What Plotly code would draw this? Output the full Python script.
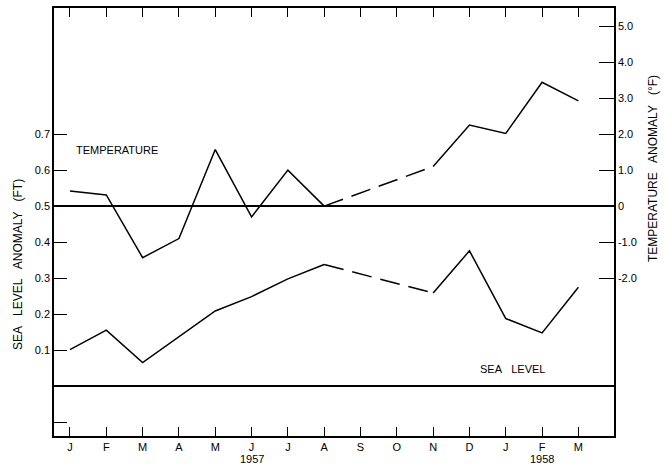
import plotly.graph_objects as go

# ---- data ----
months = ["J", "F", "M", "A", "M", "J", "J", "A", "S", "O", "N", "D", "J", "F", "M"]
month_index = list(range(len(months)))

# temperature anomaly (deg F, right axis units)
temp_anom = [0.42, 0.31, -1.43, -0.90, 1.57, -0.30, 1.00, 0.0, None, None,
             1.10, 2.25, 2.02, 3.44, 2.92]
# sea level anomaly (ft, left axis)
sea_level = [0.102, 0.156, 0.066, 0.137, 0.209, 0.249, 0.298, 0.338, None, None,
             0.259, 0.376, 0.188, 0.148, 0.275]
# months joined by a dashed segment (missing data between A and N)
bridge = [7, 10]

years = ["1957", "1958"]
year_month = [5, 13]

sea_ticks = [-0.1, 0.1, 0.2, 0.3, 0.4, 0.5, 0.6, 0.7]
sea_tick_text = ["", "0.1", "0.2", "0.3", "0.4", "0.5", "0.6", "0.7"]
temp_ticks = [-2, -1, 0, 1, 2, 3, 4, 5]
temp_tick_text = ["-2.0", "-1.0", "0", "1.0", "2.0", "3.0", "4.0", "5.0"]

# ---- figure ----
FONT = "Liberation Sans, Arial, sans-serif"
LW = 1.5
sea_range = [-0.138, 1.05]
temp_range = [(sea_range[0] - 0.5) * 10, (sea_range[1] - 0.5) * 10]

fig = go.Figure()
fig.add_trace(go.Scatter(x=month_index, y=temp_anom, mode="lines", yaxis="y2",
                         connectgaps=False, line=dict(color="black", width=LW),
                         showlegend=False, hoverinfo="skip"))
fig.add_trace(go.Scatter(x=[month_index[i] for i in bridge], y=[temp_anom[i] for i in bridge],
                         mode="lines", yaxis="y2",
                         line=dict(color="black", width=LW, dash="20px,9px"),
                         showlegend=False, hoverinfo="skip"))
fig.add_trace(go.Scatter(x=month_index, y=sea_level, mode="lines",
                         connectgaps=False, line=dict(color="black", width=LW),
                         showlegend=False, hoverinfo="skip"))
fig.add_trace(go.Scatter(x=[month_index[i] for i in bridge], y=[sea_level[i] for i in bridge],
                         mode="lines",
                         line=dict(color="black", width=LW, dash="20px,9px"),
                         showlegend=False, hoverinfo="skip"))

axis_common = dict(showgrid=False, showline=True, linecolor="black", linewidth=LW,
                   tickcolor="black", tickwidth=1.2, ticks="inside",
                   tickfont=dict(family=FONT, size=11, color="black"))

fig.update_layout(
    width=667, height=467,
    margin=dict(l=54, r=53, t=6, b=31),
    paper_bgcolor="white", plot_bgcolor="white",
    font=dict(family=FONT, size=11, color="black"),
    xaxis=dict(range=[-0.44, 14.98], tickvals=month_index, ticktext=months,
               ticklen=9, mirror="ticks", zeroline=False, **axis_common),
    yaxis=dict(range=sea_range, tickvals=sea_ticks, ticktext=sea_tick_text,
               ticklen=13, zeroline=True, zerolinecolor="black", zerolinewidth=LW,
               **axis_common),
    yaxis2=dict(range=temp_range, overlaying="y", side="right",
                tickvals=temp_ticks, ticktext=temp_tick_text, ticklen=15,
                zeroline=True, zerolinecolor="black", zerolinewidth=LW,
                **axis_common),
)

ann_font = dict(family=FONT, size=11, color="black")
for yr, m in zip(years, year_month):
    fig.add_annotation(x=m, xref="x", y=0, yref="paper", text=yr, showarrow=False,
                       xanchor="center", yanchor="middle", yshift=-23, font=ann_font)

fig.add_annotation(x=0.112, y=0.6674, xref="paper", yref="paper", text="TEMPERATURE",
                   xanchor="center", yanchor="middle",
                   showarrow=False, font=dict(family=FONT, size=11, color="black"))
fig.add_annotation(x=0.8195, y=0.1558, xref="paper", yref="paper",
                   text="SEA\u00a0\u00a0\u00a0LEVEL", xanchor="center", yanchor="middle",
                   showarrow=False, font=dict(family=FONT, size=11, color="black"))
fig.add_annotation(x=-0.064, y=0.40, xref="paper", yref="paper",
                   text="SEA\u00a0\u00a0 LEVEL\u00a0\u00a0 ANOMALY\u00a0\u00a0 (FT)", textangle=-90,
                   xanchor="center", yanchor="middle",
                   showarrow=False, font=dict(family=FONT, size=12, color="black"))
fig.add_annotation(x=1.0688, y=0.625, xref="paper", yref="paper",
                   text="TEMPERATURE\u00a0\u00a0 ANOMALY\u00a0\u00a0 (°F)", textangle=-90,
                   xanchor="center", yanchor="middle",
                   showarrow=False, font=dict(family=FONT, size=12, color="black"))

fig.write_html("out.html")
